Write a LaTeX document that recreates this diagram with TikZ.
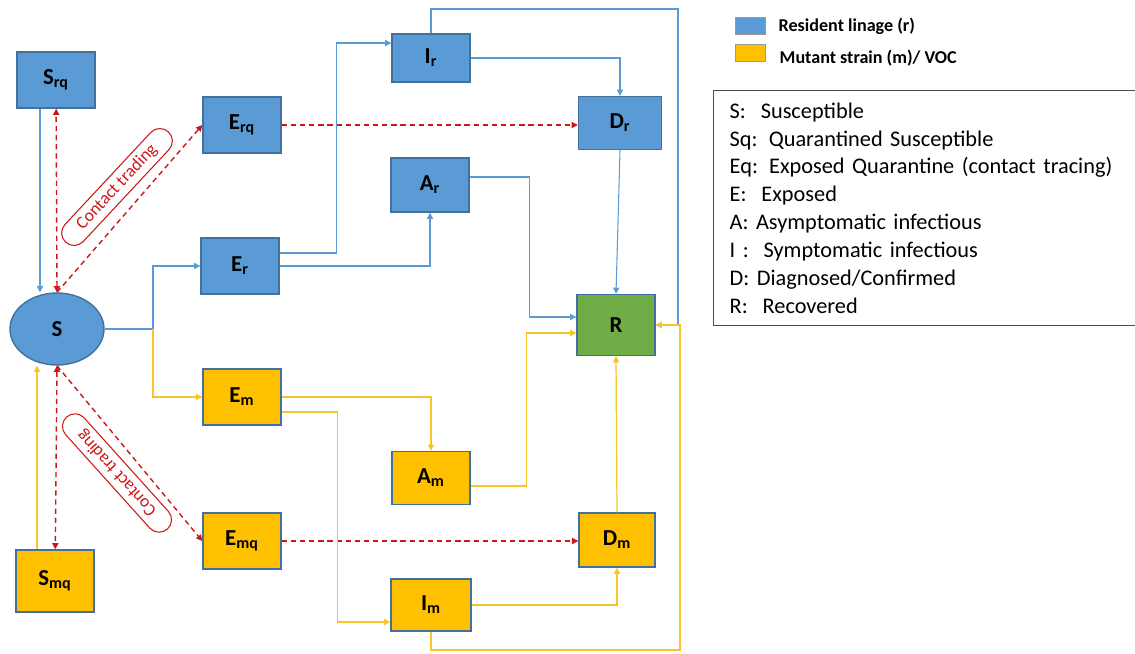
\documentclass[tikz,border=0pt]{standalone}
\usepackage{fontspec}
\setmainfont{Carlito}
\usetikzlibrary{arrows.meta,shapes.geometric,shapes.misc,positioning}

\definecolor{resblue}{RGB}{91,155,213}
\definecolor{resedge}{RGB}{65,113,156}
\definecolor{mutorange}{RGB}{255,192,0}
\definecolor{mutline}{RGB}{250,196,40}
\definecolor{recgreen}{RGB}{112,173,71}
\definecolor{tracered}{RGB}{204,24,24}

\begin{document}
\begin{tikzpicture}[x=0.02cm, y=-0.02cm,
										compbox/.style={rectangle, draw=resedge, line width=0.8pt,
																		minimum width=1.56cm, minimum height=1.12cm,
																		font=\fontsize{13}{15}\selectfont\bfseries},
										resbox/.style={compbox, fill=resblue},
										mutbox/.style={compbox, fill=mutorange},
										resflow/.style={draw=resblue, line width=0.6pt, -{Triangle[length=3.5pt,width=3.5pt]}},
										mutflow/.style={draw=mutline, line width=0.7pt, -{Triangle[length=3.5pt,width=3.5pt]}},
										traceflow/.style={draw=tracered, line width=0.8pt, dash pattern=on 3pt off 2.2pt,
																			-{Triangle[length=3.5pt,width=3.5pt]}},
										tracelabel/.style={rounded rectangle, draw=tracered, line width=0.6pt, text=tracered,
																			 minimum width=3.05cm, minimum height=0.5cm, inner sep=0.5pt,
																			 font=\fontsize{10}{11}\selectfont},
										swatch/.style={rectangle, draw=black!40, minimum width=0.6cm, minimum height=0.33cm, inner sep=0pt},
										swatchtext/.style={anchor=west, inner sep=0pt, font=\fontsize{10.3}{12}\selectfont\bfseries}]
	\useasboundingbox (0,0) rectangle (1135,653);

	\node [ellipse, draw=resedge, fill=resblue, line width=0.8pt, minimum width=1.88cm, minimum height=1.44cm,
				 font=\fontsize{13}{15}\selectfont\bfseries] (s) at (57,329) {S};
	\node [resbox] (srq) at (56,80) {S\textsubscript{rq}};
	\node [mutbox, minimum height=1.24cm] (smq) at (55,581) {S\textsubscript{mq}};
	\node [resbox] (erq) at (242,125) {E\textsubscript{rq}};
	\node [resbox] (er) at (240,266) {E\textsubscript{r}};
	\node [mutbox] (em) at (242,397) {E\textsubscript{m}};
	\node [mutbox] (emq) at (242,541) {E\textsubscript{mq}};
	\node [resbox, minimum height=0.96cm] (ir) at (431,58) {I\textsubscript{r}};
	\node [resbox, minimum height=1.08cm] (ar) at (430,185) {A\textsubscript{r}};
	\node [mutbox, minimum height=1.06cm] (am) at (431,478) {A\textsubscript{m}};
	\node [mutbox, minimum height=1.04cm, minimum width=1.6cm] (im) at (431,605) {I\textsubscript{m}};
	\node [resbox, minimum width=1.66cm, minimum height=1.06cm] (dr) at (620,123) {D\textsubscript{r}};
	\node [mutbox, minimum width=1.52cm, minimum height=1.08cm] (dm) at (617,540) {D\textsubscript{m}};
	\node [compbox, fill=recgreen, minimum height=1.22cm] (r) at (616,325) {R};

	\coordinate (split) at (153,329);
	\coordinate (topturn) at (678,9);
	\coordinate (botturn) at (680,650);

	\draw [resflow] (srq.south -| 40,0) -- (s.north -| 40,0);
	\draw [mutflow] (smq.north -| 37,0) -- (s.south -| 37,0);
	\draw [traceflow, {Triangle[length=3.5pt,width=3.5pt]}-{Triangle[length=3.5pt,width=3.5pt]}] (s.north) -- (srq);
	\draw [traceflow, {Triangle[length=3.5pt,width=3.5pt]}-{Triangle[length=3.5pt,width=3.5pt]}] (s.south) -- (smq);
	\draw [traceflow] (s.north) -- (erq.west);
	\draw [traceflow] (s.south) -- (emq.west);
	\draw [traceflow] (erq.east) -- (erq.east -| dr.west);
	\draw [traceflow] (emq.east) -- (emq.east -| dm.west);

	\draw [resflow] (s.east) -- (split) |- (er);
	\draw [mutflow] (split) |- (em);
	\draw [resflow] ([yshift=0.26cm]er.east) -- ++(57,0) |- ([yshift=0.3cm]ir.west);
	\draw [resflow] (er.east) -| (ar);
	\draw [resflow] (ir.east) -| (dr);
	\draw [resflow] (ir.north) |- (topturn) |- (r.east);
	\draw [resflow] ([yshift=0.16cm]ar.east) -- ++(60,0) |- ([yshift=0.16cm]r.west);
	\draw [resflow] (dr.south) -- (r.north);

	\draw [mutflow] (em.east) -| (am);
	\draw [mutflow] ([yshift=-0.3cm]em.east) -- ++(56,0) |- ([yshift=-0.34cm]im.west);
	\draw [mutflow] ([yshift=-0.16cm]am.east) -- ++(56,0) |- ([yshift=-0.16cm]r.west);
	\draw [mutflow] (im.east) -| (dm);
	\draw [mutflow] (dm.north) -- (r.south);
	\draw [mutflow, line width=1.1pt] (im.south) |- (botturn) |- (r.east);

	\node [tracelabel, rotate=47] (ctup) at (117,187) {Contact trading};
	\node [tracelabel, rotate=132] (ctdown) at (117,473) {Contact trading};

	\node [swatch, fill=resblue] (legres) at (750,26) {};
	\node [swatch, fill=mutorange] (legmut) at (750,53) {};
	\node [swatchtext, right=0.26cm of legres] (legrestxt) {Resident linage (r)};
	\node [swatchtext, right=0.28cm of legmut, yshift=-0.1cm] (legmuttxt) {Mutant strain (m)/ VOC};

	\node [draw=black!70, line width=0.8pt, anchor=north west, minimum width=8.5cm, minimum height=4.7cm,
				 text width=7.9cm, inner xsep=0.32cm, align=left,
				 font=\fontsize{12.7}{15.9}\selectfont] (key) at (713,90)
		{S:\ \ Susceptible\\
		 Sq: Quarantined Susceptible\\
		 Eq: Exposed Quarantine (contact tracing)\\
		 E:\ \ Exposed\\
		 A: Asymptomatic infectious\\
		 I :\ \ Symptomatic infectious\\
		 D: Diagnosed/Confirmed\\
		 R:\ \ Recovered};
\end{tikzpicture}
\end{document}
